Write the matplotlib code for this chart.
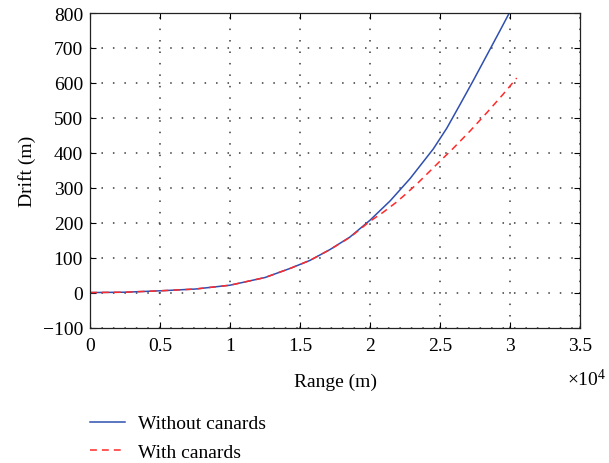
import matplotlib
matplotlib.use("Agg")
import matplotlib.pyplot as plt
from matplotlib.ticker import FuncFormatter, MultipleLocator
from matplotlib.lines import Line2D

plt.rcParams['font.family'] = ['Liberation Serif', 'DejaVu Serif']
plt.rcParams['mathtext.fontset'] = 'custom'
plt.rcParams['mathtext.rm'] = 'Liberation Serif'
plt.rcParams['axes.unicode_minus'] = True

# Data (range in m, drift in m)
range_without = [0, 2500, 5000, 7500, 10000, 12500, 14290, 15710, 17140, 18570,
                 20000, 21430, 22860, 24520, 25480, 26430, 27380, 28330, 29290, 29950]
drift_without = [0, 1, 5, 10, 21, 43, 69, 92, 123, 159,
                 207, 262, 326, 411, 470, 538, 607, 678, 750, 800]

range_with = [0, 2500, 5000, 7500, 10000, 12500, 14290, 15710, 17140, 18570,
              20000, 20950, 21900, 22500, 23330, 25000, 25950, 27140, 28330, 29520, 30480]
drift_with = [0, 1, 5, 10, 21, 43, 69, 92, 123, 158,
              204, 230, 259, 280, 310, 376, 413, 462, 514, 568, 614]

labels = ["Without canards", "With canards"]
x_label = "Range (m)"
y_label = "Drift (m)"

BLUE = '#2f4fb0'
RED = '#ff2a2a'
DASH = (0, (4.5, 3.3))
FS = 14

W, H = 609, 464
fig = plt.figure(figsize=(W / 100, H / 100), dpi=100)
ax = fig.add_axes([90 / W, 1 - 328.5 / H, 490 / W, 314.5 / H])

ax.plot(range_without, drift_without, color=BLUE, lw=1.1)
ax.plot(range_with, drift_with, color=RED, lw=1.1, linestyle=DASH)

ax.set_xlim(0, 35000)
ax.set_ylim(-100, 800)
ax.xaxis.set_major_locator(MultipleLocator(5000))
ax.yaxis.set_major_locator(MultipleLocator(100))
ax.xaxis.set_major_formatter(FuncFormatter(lambda v, p: "%g" % (v / 1e4)))
ax.yaxis.set_major_formatter(FuncFormatter(lambda v, p: ("\u2212%d" % -v) if v < 0 else "%d" % v))

ax.grid(True, color='#3a3a3a', linestyle=(0, (1, 6.5)), linewidth=1.1)
ax.tick_params(axis='both', direction='in', length=4, width=0.8, top=True, right=True,
               labelsize=FS, colors='black')
ax.tick_params(axis='x', pad=7)
ax.tick_params(axis='y', pad=5)
for s in ax.spines.values():
    s.set_linewidth(0.9)
    s.set_color('#222222')

ax.set_xlabel(x_label, fontsize=FS, labelpad=13)
ax.set_ylabel(y_label, fontsize=FS, labelpad=5)

fig.text(606 / W, 1 - 380 / H, r'$\times\mathregular{10^4}$', fontsize=FS,
         ha='right', va='center')

handles = [Line2D([], [], color=BLUE, lw=1.1),
           Line2D([], [], color=RED, lw=1.1, linestyle=DASH)]
fig.legend(handles, labels, loc='upper left', bbox_to_anchor=(82 / W, 1 - 408 / H),
           frameon=False, fontsize=FS, handlelength=1.8, handletextpad=0.7,
           labelspacing=0.55, borderaxespad=0)

fig.savefig("out.png", dpi=100)
